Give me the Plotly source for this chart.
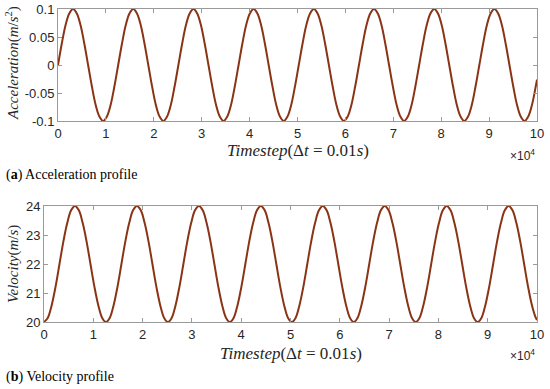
import plotly.graph_objects as go

# Timestep samples (read at sixteenth-period positions of the waves)
timestep = [0, 785, 1571, 2356, 3142, 3927, 4712, 5498, 6283, 7069, 7854, 8639, 9425, 10210, 10996, 11781,
            12566, 13352, 14137, 14923, 15708, 16493, 17279, 18064, 18850, 19635, 20420, 21206, 21991, 22777, 23562, 24347,
            25133, 25918, 26704, 27489, 28274, 29060, 29845, 30631, 31416, 32201, 32987, 33772, 34558, 35343, 36128, 36914,
            37699, 38485, 39270, 40055, 40841, 41626, 42412, 43197, 43982, 44768, 45553, 46339, 47124, 47909, 48695, 49480,
            50265, 51051, 51836, 52622, 53407, 54192, 54978, 55763, 56549, 57334, 58119, 58905, 59690, 60476, 61261, 62046,
            62832, 63617, 64403, 65188, 65973, 66759, 67544, 68330, 69115, 69900, 70686, 71471, 72257, 73042, 73827, 74613,
            75398, 76184, 76969, 77754, 78540, 79325, 80111, 80896, 81681, 82467, 83252, 84038, 84823, 85608, 86394, 87179,
            87965, 88750, 89535, 90321, 91106, 91892, 92677, 93462, 94248, 95033, 95819, 96604, 97389, 98175, 98960, 99746,
            100000]

acceleration = [0, 0.038, 0.071, 0.092, 0.1, 0.092, 0.071, 0.038, 0, -0.038, -0.071, -0.092, -0.1, -0.092, -0.071, -0.038,
                0, 0.038, 0.071, 0.092, 0.1, 0.092, 0.071, 0.038, 0, -0.038, -0.071, -0.092, -0.1, -0.092, -0.071, -0.038,
                0, 0.038, 0.071, 0.092, 0.1, 0.092, 0.071, 0.038, 0, -0.038, -0.071, -0.092, -0.1, -0.092, -0.071, -0.038,
                0, 0.038, 0.071, 0.092, 0.1, 0.092, 0.071, 0.038, 0, -0.038, -0.071, -0.092, -0.1, -0.092, -0.071, -0.038,
                0, 0.038, 0.071, 0.092, 0.1, 0.092, 0.071, 0.038, 0, -0.038, -0.071, -0.092, -0.1, -0.092, -0.071, -0.038,
                0, 0.038, 0.071, 0.092, 0.1, 0.092, 0.071, 0.038, 0, -0.038, -0.071, -0.092, -0.1, -0.092, -0.071, -0.038,
                0, 0.038, 0.071, 0.092, 0.1, 0.092, 0.071, 0.038, 0, -0.038, -0.071, -0.092, -0.1, -0.092, -0.071, -0.038,
                0, 0.038, 0.071, 0.092, 0.1, 0.092, 0.071, 0.038, 0, -0.038, -0.071, -0.092, -0.1, -0.092, -0.071, -0.038,
                -0.026]

velocity = [20, 20.15, 20.59, 21.23, 22, 22.77, 23.41, 23.85, 24, 23.85, 23.41, 22.77, 22, 21.23, 20.59, 20.15,
            20, 20.15, 20.59, 21.23, 22, 22.77, 23.41, 23.85, 24, 23.85, 23.41, 22.77, 22, 21.23, 20.59, 20.15,
            20, 20.15, 20.59, 21.23, 22, 22.77, 23.41, 23.85, 24, 23.85, 23.41, 22.77, 22, 21.23, 20.59, 20.15,
            20, 20.15, 20.59, 21.23, 22, 22.77, 23.41, 23.85, 24, 23.85, 23.41, 22.77, 22, 21.23, 20.59, 20.15,
            20, 20.15, 20.59, 21.23, 22, 22.77, 23.41, 23.85, 24, 23.85, 23.41, 22.77, 22, 21.23, 20.59, 20.15,
            20, 20.15, 20.59, 21.23, 22, 22.77, 23.41, 23.85, 24, 23.85, 23.41, 22.77, 22, 21.23, 20.59, 20.15,
            20, 20.15, 20.59, 21.23, 22, 22.77, 23.41, 23.85, 24, 23.85, 23.41, 22.77, 22, 21.23, 20.59, 20.15,
            20, 20.15, 20.59, 21.23, 22, 22.77, 23.41, 23.85, 24, 23.85, 23.41, 22.77, 22, 21.23, 20.59, 20.15,
            20.07]

x_tickvals = [0, 10000, 20000, 30000, 40000, 50000, 60000, 70000, 80000, 90000, 100000]
x_ticktext = ['0', '1', '2', '3', '4', '5', '6', '7', '8', '9', '10']
acc_tickvals = [0.1, 0.05, 0, -0.05, -0.1]
acc_ticktext = ['0.1', '0.05', '0', '-0.05', '-0.1']
vel_tickvals = [20, 21, 22, 23, 24]
vel_ticktext = ['20', '21', '22', '23', '24']

line_color = '#8a3416'

fig = go.Figure()
fig.add_trace(go.Scatter(x=timestep, y=acceleration, mode='lines',
                         line=dict(color=line_color, width=2, shape='spline', smoothing=1.0),
                         xaxis='x', yaxis='y', showlegend=False, hoverinfo='skip'))
fig.add_trace(go.Scatter(x=timestep, y=velocity, mode='lines',
                         line=dict(color=line_color, width=2, shape='spline', smoothing=1.0),
                         xaxis='x2', yaxis='y2', showlegend=False, hoverinfo='skip'))

tickfont = dict(family='Liberation Sans, Arial', size=13, color='#262626')
axis_common = dict(showgrid=False, zeroline=False, showline=True, linecolor='#9a9a9a',
                   linewidth=1, mirror='ticks', ticks='inside', ticklen=4,
                   tickcolor='#9a9a9a', tickfont=tickfont, automargin=False)

H = 389.0
W = 550.0
fig.update_layout(
    template='none',
    width=550, height=389,
    margin=dict(l=0, r=0, t=0, b=0, pad=0),
    paper_bgcolor='white', plot_bgcolor='white',
    xaxis=dict(domain=[58 / W, 537 / W], range=[0, 100000], tickvals=x_tickvals,
               ticktext=x_ticktext, anchor='y', **axis_common),
    yaxis=dict(domain=[1 - 121 / H, 1 - 9 / H], range=[-0.1, 0.1], tickvals=acc_tickvals,
               ticktext=acc_ticktext, anchor='x', **axis_common),
    xaxis2=dict(domain=[44 / W, 537 / W], range=[0, 100000], tickvals=x_tickvals,
                ticktext=x_ticktext, anchor='y2', **axis_common),
    yaxis2=dict(domain=[1 - 322 / H, 1 - 206 / H], range=[20, 24], tickvals=vel_tickvals,
                ticktext=vel_ticktext, anchor='x2', **axis_common),
)

serif = 'Liberation Serif, Times New Roman, serif'
ann = []


def add(text, x, y, size, family, xanchor='center', yanchor='middle', angle=0, color='#262626'):
    ann.append(dict(text=text, x=x / W, y=1 - y / H, xref='paper', yref='paper',
                    xanchor=xanchor, yanchor=yanchor, textangle=angle, showarrow=False,
                    font=dict(family=family, size=size, color=color)))


# x-axis titles
add('<i>Timestep</i>(Δ<i>t</i> = 0.01<i>s</i>)', (58 + 537) / 2, 150, 17, serif)
add('<i>Timestep</i>(Δ<i>t</i> = 0.01<i>s</i>)', (44 + 537) / 2, 353, 17, serif)
# exponent labels
add('×10<sup>4</sup>', 537, 155, 12, 'Liberation Sans, Arial', xanchor='right')
add('×10<sup>4</sup>', 537, 355, 12, 'Liberation Sans, Arial', xanchor='right')
# y-axis titles
add('<i>Acceleration</i>(<i>m</i>/<i>s</i><sup>2</sup>)', 13, 63, 15, serif, angle=-90)
add('<i>Velocity</i>(<i>m</i>/<i>s</i>)', 13, 264, 15, serif, angle=-90)
# captions
add('(<b>a</b>) Acceleration profile', 4, 175, 14, serif, xanchor='left', color='black')
add('(<b>b</b>) Velocity profile', 4, 377, 14, serif, xanchor='left', color='black')
fig.update_layout(annotations=ann)

fig.write_html('out.html', config={'displayModeBar': False},
               post_script="document.body.style.margin='0';document.body.style.overflow='hidden';")
